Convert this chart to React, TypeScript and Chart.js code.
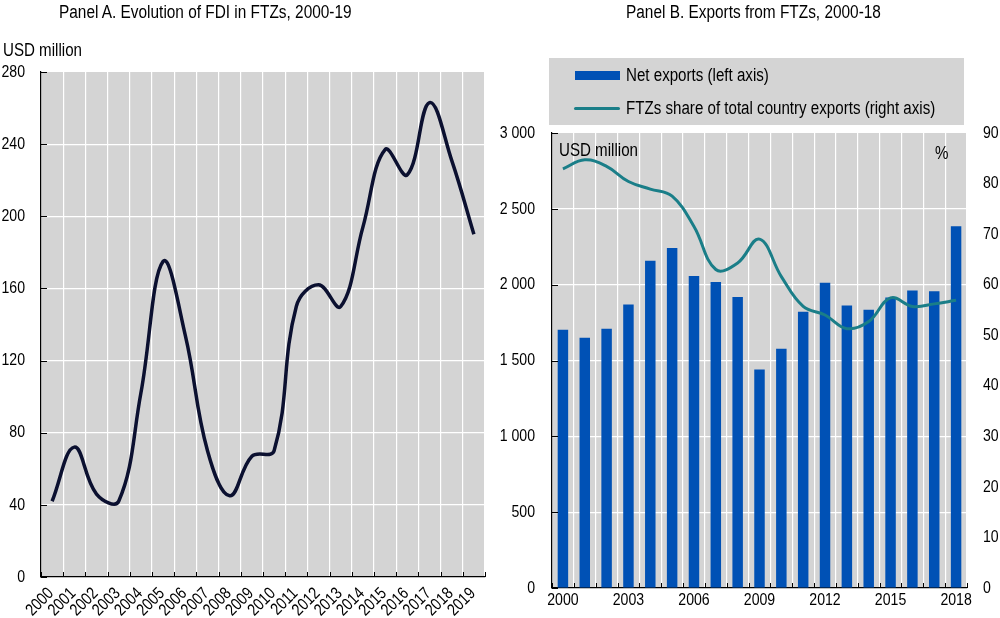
import React, { useEffect, useRef } from "react";
import { Chart, registerables } from "chart.js";
Chart.register(...registerables);

const FONT = "'Liberation Sans', Arial, sans-serif";
const GRAY = "#d4d4d4";
const NAVY = "#0b1030";
const BLUE = "#0051b5";
const TEAL = "#1a7e88";
const TICK_SIZE = 17;
const TICK_SX = 0.83;

// Panel A
const fdiYears = ["2000", "2001", "2002", "2003", "2004", "2005", "2006", "2007", "2008", "2009", "2010", "2011", "2012", "2013", "2014", "2015", "2016", "2017", "2018", "2019"];
const fdiValues = [42, 72, 46, 42, 102, 175, 134, 70, 45, 67, 70, 150, 162, 150, 194, 237, 223, 263, 231, 190];
const fdiTicks = [0, 40, 80, 120, 160, 200, 240, 280];

// Panel B
const expYears = ["2000", "2001", "2002", "2003", "2004", "2005", "2006", "2007", "2008", "2009", "2010", "2011", "2012", "2013", "2014", "2015", "2016", "2017", "2018"];
const netExports = [1703, 1650, 1710, 1870, 2158, 2241, 2057, 2017, 1918, 1440, 1578, 1822, 2013, 1862, 1834, 1916, 1962, 1956, 2385];
const ftzShare = [82.9, 84.7, 83.4, 80.4, 78.9, 77.5, 71.5, 63, 64.3, 69, 61.6, 55.7, 54, 51.3, 52.7, 57.4, 55.7, 56.2, 56.9];
const leftTicks = [0, 500, 1000, 1500, 2000, 2500, 3000];
const rightTicks = [0, 10, 20, 30, 40, 50, 60, 70, 80, 90];

Chart.defaults.font.family = FONT;
Chart.defaults.font.size = 17;
Chart.defaults.color = "#000";

const fmtSpace = (v: number) => String(v).replace(/\B(?=(\d{3})+(?!\d))/g, " ");

function drawLabel(ctx: CanvasRenderingContext2D, text: string, x: number, y: number, align: CanvasTextAlign, rot = 0) {
  ctx.save();
  ctx.translate(x, y);
  if (rot) ctx.rotate(rot);
  ctx.scale(TICK_SX, 1);
  ctx.font = `${TICK_SIZE}px ${FONT}`;
  ctx.textAlign = align;
  ctx.textBaseline = "middle";
  ctx.fillStyle = "#000";
  ctx.fillText(text, 0, 0);
  ctx.restore();
}

const bgPlugin = {
  id: "bgFill",
  beforeDraw(chart: any) {
    const { ctx, chartArea: a } = chart;
    ctx.save();
    ctx.fillStyle = GRAY;
    ctx.fillRect(a.left, a.top, a.right - a.left, a.bottom - a.top);
    ctx.restore();
  },
};

const makeTickPlugin = (nCats: number, yValues: number[]) => ({
  id: "innerTicks",
  afterDraw(chart: any) {
    const { ctx, chartArea: a } = chart;
    const ys = chart.scales.y;
    ctx.save();
    ctx.strokeStyle = "#000";
    ctx.lineWidth = 1;
    ctx.beginPath();
    yValues.forEach((v) => {
      const y = Math.round(ys.getPixelForValue(v)) + 0.5;
      ctx.moveTo(a.left, y);
      ctx.lineTo(a.left + 6, y);
    });
    const w = (a.right - a.left) / nCats;
    for (let i = 0; i <= nCats; i++) {
      const x = Math.round(a.left + i * w) + 0.5;
      ctx.moveTo(x, a.bottom);
      ctx.lineTo(x, a.bottom - 5);
    }
    ctx.stroke();
    ctx.restore();
  },
});

const labelsA = {
  id: "labelsA",
  afterDraw(chart: any) {
    const { ctx, chartArea: a } = chart;
    const ys = chart.scales.y;
    const xs = chart.scales.x;
    fdiTicks.forEach((v) => drawLabel(ctx, String(v), a.left - 16, ys.getPixelForValue(v), "right"));
    fdiYears.forEach((lab, i) => drawLabel(ctx, lab, xs.getPixelForValue(i) - 1, a.bottom + 14, "right", -Math.PI / 4));
  },
};

const labelsB = {
  id: "labelsB",
  afterDraw(chart: any) {
    const { ctx, chartArea: a } = chart;
    const ys = chart.scales.y;
    const yr = chart.scales.y1;
    const xs = chart.scales.x;
    leftTicks.forEach((v) => drawLabel(ctx, fmtSpace(v), a.left - 17, ys.getPixelForValue(v), "right"));
    rightTicks.forEach((v) => drawLabel(ctx, String(v), a.right + 16, yr.getPixelForValue(v), "left"));
    expYears.forEach((lab, i) => {
      if (i % 3 === 0) drawLabel(ctx, lab, xs.getPixelForValue(i), a.bottom + 12, "center");
    });
  },
};

function PanelA() {
  const ref = useRef<HTMLCanvasElement>(null);
  useEffect(() => {
    const max = fdiTicks[fdiTicks.length - 1];
    const chart = new Chart(ref.current!, {
      type: "line",
      data: {
        labels: fdiYears,
        datasets: [
          {
            data: fdiValues,
            borderColor: NAVY,
            borderWidth: 3.5,
            pointRadius: 0,
            tension: 0.4,
            fill: false,
          },
        ],
      },
      options: {
        responsive: false,
        animation: false,
        layout: { padding: { top: 72, right: 15, left: 0, bottom: 0 } },
        plugins: { legend: { display: false }, tooltip: { enabled: false } },
        scales: {
          x: {
            offset: true,
            grid: { offset: true, color: "#fff", lineWidth: 1.2, drawTicks: false },
            border: { display: true, color: "#000", width: 1.2 },
            ticks: { display: false, autoSkip: false },
            afterFit: (s: any) => {
              s.height = 41;
            },
          },
          y: {
            min: 0,
            max,
            afterBuildTicks: (s: any) => {
              s.ticks = fdiTicks.map((v) => ({ value: v }));
            },
            grid: {
              color: (c: any) => (c.tick && (c.tick.value === max || c.tick.value === 0) ? "rgba(0,0,0,0)" : "#fff"),
              lineWidth: 1.2,
              drawTicks: false,
            },
            border: { display: true, color: "#000", width: 1.2 },
            ticks: { display: false },
            afterFit: (s: any) => {
              s.width = 41;
            },
          },
        },
      },
      plugins: [bgPlugin, makeTickPlugin(fdiYears.length, fdiTicks), labelsA],
    } as any);
    return () => chart.destroy();
  }, []);
  return <canvas ref={ref} width={500} height={618} style={{ position: "absolute", left: 0, top: 0 }} />;
}

function PanelB() {
  const ref = useRef<HTMLCanvasElement>(null);
  useEffect(() => {
    const max = leftTicks[leftTicks.length - 1];
    const chart = new Chart(ref.current!, {
      type: "bar",
      data: {
        labels: expYears,
        datasets: [
          {
            type: "line",
            data: ftzShare,
            yAxisID: "y1",
            borderColor: TEAL,
            borderWidth: 3,
            pointRadius: 0,
            tension: 0.4,
            fill: false,
            order: 0,
          },
          {
            type: "bar",
            data: netExports,
            yAxisID: "y",
            backgroundColor: BLUE,
            categoryPercentage: 1,
            barPercentage: 0.48,
            order: 1,
          },
        ],
      },
      options: {
        responsive: false,
        animation: false,
        layout: { padding: { top: 133, right: 0, left: 20, bottom: 0 } },
        plugins: { legend: { display: false }, tooltip: { enabled: false } },
        scales: {
          x: {
            offset: true,
            grid: { offset: true, color: "#fff", lineWidth: 1.2, drawTicks: false },
            border: { display: true, color: "#000", width: 1.2 },
            ticks: { display: false, autoSkip: false },
            afterFit: (s: any) => {
              s.height = 30;
            },
          },
          y: {
            position: "left",
            min: 0,
            max,
            afterBuildTicks: (s: any) => {
              s.ticks = leftTicks.map((v) => ({ value: v }));
            },
            grid: {
              color: (c: any) => (c.tick && (c.tick.value === max || c.tick.value === 0) ? "rgba(0,0,0,0)" : "#fff"),
              lineWidth: 1.2,
              drawTicks: false,
            },
            border: { display: true, color: "#000", width: 1.2 },
            ticks: { display: false },
            afterFit: (s: any) => {
              s.width = 52;
            },
          },
          y1: {
            position: "right",
            min: 0,
            max: rightTicks[rightTicks.length - 1],
            afterBuildTicks: (s: any) => {
              s.ticks = rightTicks.map((v) => ({ value: v }));
            },
            grid: { display: false, drawTicks: false },
            border: { display: false },
            ticks: { display: false },
            afterFit: (s: any) => {
              s.width = 33;
            },
          },
        },
      },
      plugins: [bgPlugin, makeTickPlugin(expYears.length, leftTicks), labelsB],
    } as any);
    return () => chart.destroy();
  }, []);
  return <canvas ref={ref} width={520} height={618} style={{ position: "absolute", left: 480, top: 0 }} />;
}

const txt = (s: string, left: number, cy: number, sx = 0.84, size = 18) => (
  <div
    style={{
      position: "absolute",
      left,
      top: cy - 11,
      height: 22,
      lineHeight: "22px",
      fontSize: size,
      whiteSpace: "nowrap",
      color: "#000",
      transform: `scaleX(${sx})`,
      transformOrigin: "left center",
    }}
  >
    {s}
  </div>
);

export default function App() {
  return (
    <div
      style={{
        position: "fixed",
        left: 0,
        top: 0,
        width: 1000,
        height: 618,
        background: "#fff",
        fontFamily: FONT,
        overflow: "hidden",
      }}
    >
      <PanelA />
      <PanelB />
      {txt("Panel A. Evolution of FDI in FTZs, 2000-19", 59, 12, 0.855)}
      {txt("Panel B. Exports from FTZs, 2000-18", 626, 12, 0.855)}
      {txt("USD million", 3, 50)}
      {txt("USD million", 559, 150)}
      {txt("%", 935, 153)}
      <div style={{ position: "absolute", left: 549, top: 58, width: 415, height: 67, background: GRAY }} />
      <div style={{ position: "absolute", left: 575, top: 71, width: 45, height: 9, background: BLUE }} />
      <div style={{ position: "absolute", left: 574, top: 107, width: 46, height: 3, background: TEAL, borderRadius: 2 }} />
      {txt("Net exports (left axis)", 626, 75)}
      {txt("FTZs share of total country exports (right axis)", 626, 108)}
    </div>
  );
}
